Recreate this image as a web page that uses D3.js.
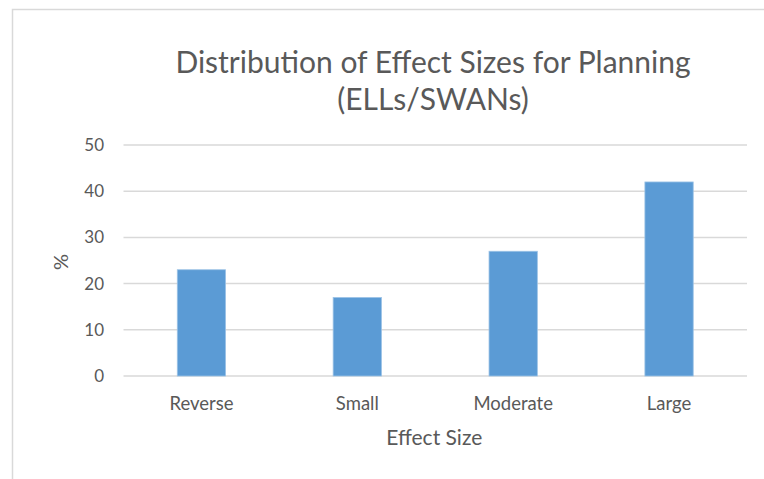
<!DOCTYPE html>
<html>
<head>
<meta charset="utf-8">
<script src="https://cdn.jsdelivr.net/npm/d3@7"></script>
<style>
  html, body { margin: 0; padding: 0; background: #fff; }
  svg { display: block; }
  text { font-family: Lato, "Open Sans", sans-serif; fill: #595959; }
</style>
</head>
<body>
<script>
const categories = ["Reverse", "Small", "Moderate", "Large"];
const values = [23, 17, 27, 42];
const yTicks = [0, 10, 20, 30, 40, 50];
const titleLines = ["Distribution of Effect Sizes for Planning", "(ELLs/SWANs)"];
const xTitle = "Effect Size";
const yTitle = "%";

(function () {
const W = 764, H = 479;
const svg = d3.select("body").append("svg").attr("width", W).attr("height", H);

// chart frame
svg.append("path")
  .attr("d", `M12.5,${H} L12.5,9.5 L${W},9.5`)
  .attr("fill", "none").attr("stroke", "#d9d9d9").attr("stroke-width", 1.5);

const pLeft = 123.5, pRight = 747, pTop = 145, pBottom = 376;

const x = d3.scaleBand().domain(categories).range([pLeft, pRight])
  .paddingInner(0.69).paddingOuter(0.345);
const y = d3.scaleLinear().domain([0, 50]).range([pBottom, pTop]);

// gridlines
svg.append("g").selectAll("line").data(yTicks).join("line")
  .attr("x1", pLeft).attr("x2", pRight)
  .attr("y1", d => y(d)).attr("y2", d => y(d))
  .attr("stroke", "#d9d9d9").attr("stroke-width", 1.5);

const ff = "Lato, 'Open Sans', sans-serif";

// y axis labels
const yAxis = d3.axisLeft(y).tickValues(yTicks).tickSize(0).tickPadding(0);
const gy = svg.append("g").attr("transform", `translate(104,0)`).call(yAxis);
gy.select(".domain").remove();
gy.selectAll("text").attr("font-size", 17).attr("fill", "#595959").style("font-family", ff);

// bars
svg.append("g").selectAll("rect").data(values).join("rect")
  .attr("x", (d, i) => x(categories[i]))
  .attr("y", d => y(d))
  .attr("width", x.bandwidth())
  .attr("height", d => y(0) - y(d))
  .attr("fill", "#5b9bd5")
  .attr("stroke", "#9cc3e6").attr("stroke-width", 0.8);

// x axis labels
const xAxis = d3.axisBottom(x).tickSize(0).tickPadding(0);
const gx = svg.append("g").attr("transform", `translate(0,${pBottom + 21})`).call(xAxis);
gx.select(".domain").remove();
gx.selectAll("text").attr("font-size", 18.5).attr("fill", "#595959").style("font-family", ff);

// axis titles
svg.append("text").attr("x", (pLeft + pRight) / 2 - 1).attr("y", 445)
  .attr("text-anchor", "middle").attr("font-size", 21).text(xTitle);
svg.append("text").attr("transform", "translate(68,262) rotate(-90)")
  .attr("text-anchor", "middle").attr("font-size", 20).text(yTitle);

// title
svg.append("g").selectAll("text").data(titleLines).join("text")
  .attr("x", 433).attr("y", (d, i) => 73 + i * 37)
  .attr("text-anchor", "middle").attr("font-size", 30)
  .text(d => d);
})();
</script>
</body>
</html>
